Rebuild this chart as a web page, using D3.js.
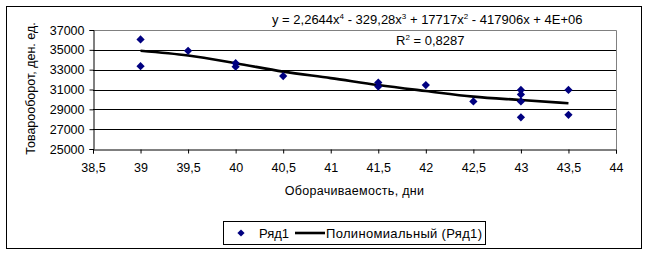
<!DOCTYPE html>
<html>
<head>
<meta charset="utf-8">
<script src="https://cdn.jsdelivr.net/npm/d3@7"></script>
<style>
  body { margin: 0; background: #fff; }
  svg text { font-family: "Liberation Sans", Arial, sans-serif; fill: #000; }
</style>
</head>
<body>
<svg id="chart" width="648" height="254"></svg>
<script>
// точки (оборачиваемость, товарооборот)
const turnover = [39, 39, 39.5, 40, 40, 40.5, 41.5, 41.5, 42, 42.5, 43, 43, 43, 43, 43.5, 43.5]
const sales = [36050, 33350, 34900, 33650, 33300, 32350, 31700, 31300, 31450, 29800, 30950, 30500, 29800, 28200, 30950, 28450]

// линия тренда
const trendX = [39, 39.5, 40, 40.5, 41, 41.5, 42, 42.5, 43, 43.5]
const trendY = [34900, 34420, 33650, 32800, 32150, 31450, 30850, 30280, 29940, 29620]

const xTicks = [38.5, 39, 39.5, 40, 40.5, 41, 41.5, 42, 42.5, 43, 43.5, 44]
const yTicks = [25000, 27000, 29000, 31000, 33000, 35000, 37000]

const svg = d3.select('#chart')
const pL = 93, pR = 616, pT = 30, pB = 149

const x = d3.scaleLinear().domain([38.5, 44]).range([pL, pR])
const y = d3.scaleLinear().domain([25000, 37000]).range([pB, pT])
const fmt = d => String(d).replace('.', ',')

// внешняя рамка
svg.append('rect')
    .attr('x', 6.5).attr('y', 6.5)
    .attr('width', 635).attr('height', 242)
    .attr('fill', '#fff').attr('stroke', '#000')

// сетка
svg.append('g')
    .selectAll('line')
    .data(yTicks.filter(d => d > 25000 && d < 37000))
    .join('line')
    .attr('x1', pL).attr('x2', pR)
    .attr('y1', d => Math.round(y(d)) + 0.5).attr('y2', d => Math.round(y(d)) + 0.5)
    .attr('stroke', '#000')

// рамка области построения (серая)
svg.append('path')
    .attr('d', `M${pL},${pT + 0.5}H${pR + 0.5}V${pB}`)
    .attr('fill', 'none')
    .attr('stroke', '#808080')

// оси
const yAxis = svg.append('g')
    .attr('transform', `translate(${pL + 0.5},0)`)
    .call(d3.axisLeft(y).tickValues(yTicks).tickSize(4).tickPadding(5).tickFormat(d => d))
const xAxis = svg.append('g')
    .attr('transform', `translate(0,${pB + 0.5})`)
    .call(d3.axisBottom(x).tickValues(xTicks).tickSize(4).tickPadding(10).tickFormat(fmt))
for (const g of [yAxis, xAxis]) {
    g.select('.domain').attr('stroke', '#000')
    g.selectAll('.tick line').attr('stroke', '#000')
    g.selectAll('text').attr('font-size', '12.5px').attr('font-family', '"Liberation Sans", Arial, sans-serif').attr('fill', '#000')
}

// подписи осей
svg.append('text')
    .attr('transform', `translate(35,${(pT + pB) / 2 - 1}) rotate(-90)`)
    .attr('text-anchor', 'middle')
    .attr('font-size', '12.5px')
    .text('Товарооборот, ден. ед.')
svg.append('text')
    .attr('x', (pL + pR) / 2).attr('y', 195)
    .attr('text-anchor', 'middle')
    .attr('font-size', '12.5px')
    .attr('letter-spacing', '0.3px')
    .text('Оборачиваемость, дни')

// линия тренда
const line = d3.line()
    .x((d, i) => x(trendX[i]))
    .y(d => y(d))
    .curve(d3.curveMonotoneX)
svg.append('path')
    .attr('d', line(trendY))
    .attr('fill', 'none')
    .attr('stroke', '#000')
    .attr('stroke-width', 2.6)

// точки
const diamond = d3.symbol().type(d3.symbolSquare).size(34)
svg.append('g')
    .selectAll('path')
    .data(turnover)
    .join('path')
    .attr('d', diamond)
    .attr('transform', (d, i) => `translate(${x(d)},${y(sales[i])}) rotate(45)`)
    .attr('fill', '#000080')

// уравнение
const eq = svg.append('text')
    .attr('x', 272).attr('y', 24)
    .attr('font-size', '13px')
const parts = [['y = 2,2644x'], ['4', 1], [' - 329,28x'], ['3', 1], [' + 17717x'], ['2', 1], [' - 417906x + 4E+06']]
parts.forEach(([t, sup], i) => {
    eq.append('tspan')
        .attr('font-size', sup ? '8px' : null)
        .attr('dy', sup ? -5 : (i === 0 ? 0 : 5))
        .text(t)
})
const r2 = svg.append('text')
    .attr('x', 396).attr('y', 45)
    .attr('font-size', '13px')
r2.append('tspan').text('R')
r2.append('tspan').attr('font-size', '8px').attr('dy', -5).text('2')
r2.append('tspan').attr('dy', 5).text(' = 0,8287')

// легенда
const lg = svg.append('g')
lg.append('rect')
    .attr('x', 223.5).attr('y', 221.5)
    .attr('width', 262).attr('height', 23)
    .attr('fill', '#fff').attr('stroke', '#000')
lg.append('path')
    .attr('d', d3.symbol().type(d3.symbolSquare).size(26))
    .attr('transform', 'translate(241,233) rotate(45)')
    .attr('fill', '#000080')
lg.append('text').attr('x', 259).attr('y', 237.5).attr('font-size', '13px').text('Ряд1')
lg.append('line')
    .attr('x1', 295).attr('x2', 325)
    .attr('y1', 233).attr('y2', 233)
    .attr('stroke', '#000').attr('stroke-width', 2.6)
lg.append('text').attr('x', 326).attr('y', 237.5).attr('font-size', '13px')
    .attr('textLength', 156).attr('lengthAdjust', 'spacing')
    .text('Полиномиальный (Ряд1)')
</script>
</body>
</html>
